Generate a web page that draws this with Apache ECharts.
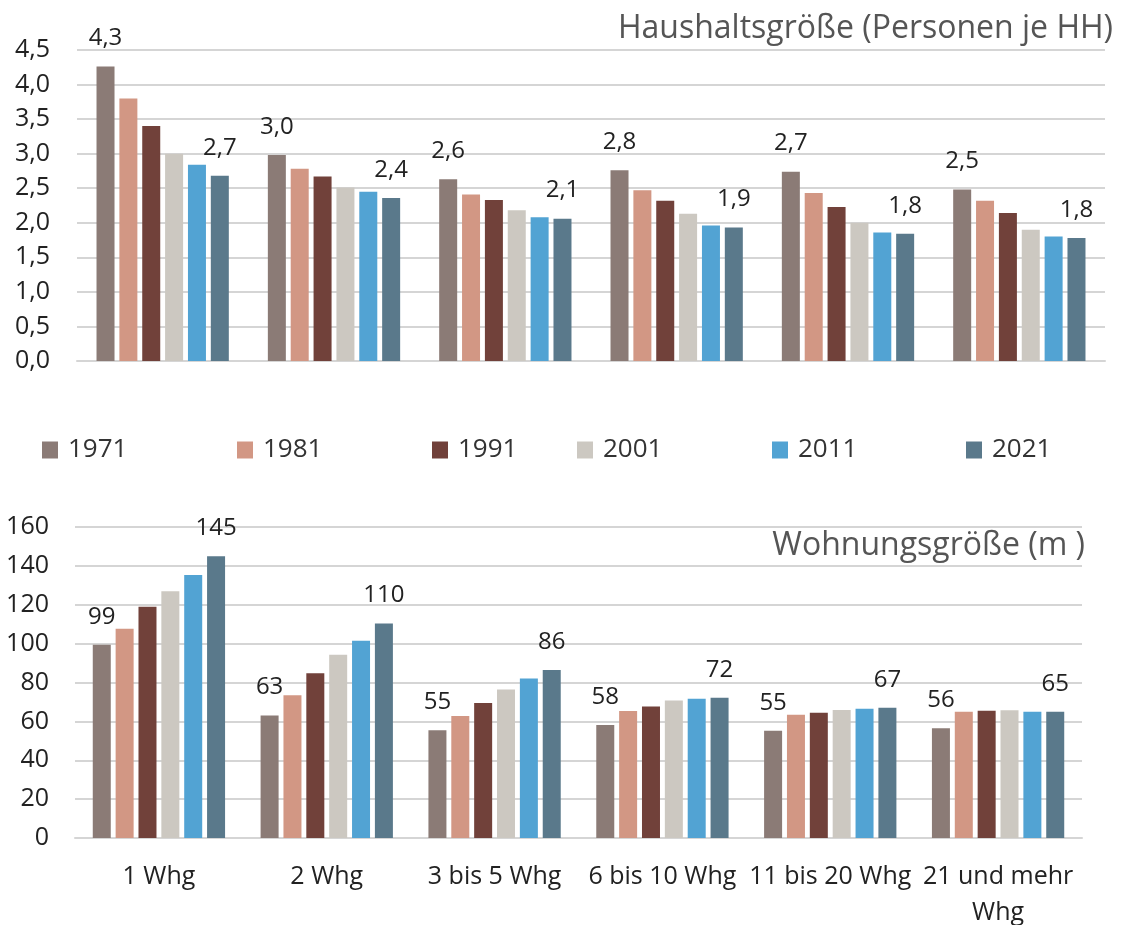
<!DOCTYPE html>
<html>
<head>
<meta charset="utf-8">
<script src="https://cdn.jsdelivr.net/npm/echarts@6/dist/echarts.min.js"></script>
<style>
html,body{margin:0;padding:0;background:#fff;}
#chart{width:1125px;height:925px;}
</style>
</head>
<body>
<div id="chart"></div>
<script>
// ---- data ----
const categories = ['1 Whg', '2 Whg', '3 bis 5 Whg', '6 bis 10 Whg', '11 bis 20 Whg', '21 und mehr Whg'];
const years = ['1971', '1981', '1991', '2001', '2011', '2021'];

// Haushaltsgröße (Personen je HH)
const hh1971 = [4.26, 2.98, 2.63, 2.76, 2.74, 2.48];
const hh1981 = [3.80, 2.78, 2.41, 2.47, 2.43, 2.32];
const hh1991 = [3.40, 2.67, 2.33, 2.32, 2.23, 2.14];
const hh2001 = [3.00, 2.51, 2.18, 2.13, 2.00, 1.90];
const hh2011 = [2.84, 2.45, 2.08, 1.96, 1.86, 1.80];
const hh2021 = [2.68, 2.36, 2.06, 1.93, 1.84, 1.78];

// Wohnungsgröße (m²)
const wg1971 = [99.4, 63.0, 55.4, 58.1, 55.2, 56.4];
const wg1981 = [107.7, 73.4, 62.8, 65.3, 63.4, 65.0];
const wg1991 = [119.0, 84.7, 69.4, 67.7, 64.5, 65.5];
const wg2001 = [126.9, 94.3, 76.4, 70.8, 65.8, 65.7];
const wg2011 = [135.3, 101.5, 82.1, 71.7, 66.5, 65.0];
const wg2021 = [145.0, 110.4, 86.4, 72.2, 67.0, 65.0];

const hhTicks = { min: 0, max: 4.5, interval: 0.5 };
const wgTicks = { min: 0, max: 160, interval: 20 };

const titleTop = 'Haushaltsgröße (Personen je HH)';
const titleBottom = 'Wohnungsgröße (m )';

// ---- styles ----
const colors = ['#8b7b76', '#d29784', '#71413a', '#ccc8c1', '#52a3d3', '#5a798b'];
const FONT = '"Open Sans", "Noto Sans", sans-serif';
const gridColor = '#d5d5d5';
const labelYears = ['1971', '2021'];

const hhData = [hh1971, hh1981, hh1991, hh2001, hh2011, hh2021];
const wgData = [wg1971, wg1981, wg1991, wg2001, wg2011, wg2021];

function mkSeries(name, data, idx, fmt, color) {
  const showLabel = labelYears.indexOf(name) >= 0;
  return {
    name: name,
    type: 'bar',
    xAxisIndex: idx,
    yAxisIndex: idx,
    data: data,
    barWidth: 18,
    barGap: '27%',
    itemStyle: { color: color },
    label: {
      show: showLabel,
      position: 'top',
      distance: 16,
      fontFamily: FONT,
      fontSize: 24,
      color: '#222',
      formatter: p => fmt(p.value)
    }
  };
}

const series = [];
years.forEach((y, i) => {
  series.push(mkSeries(y, hhData[i], 0, v => v.toFixed(1).replace('.', ','), colors[i]));
});
years.forEach((y, i) => {
  series.push(mkSeries(y, wgData[i], 1, v => String(Math.round(v)), colors[i]));
});

const legendLefts = [42, 237, 432, 577, 772, 966];
const legends = years.map((y, i) => ({
  data: [y],
  left: legendLefts[i],
  top: 437,
  padding: 0,
  icon: 'rect',
  itemWidth: 16,
  itemHeight: 17,
  selectedMode: false,
  textStyle: { fontFamily: FONT, fontSize: 26, color: '#333', padding: [0, 0, 0, 5] }
}));

const axisLineStyle = { show: true, lineStyle: { color: gridColor, width: 2 } };

const option = {
  animation: false,
  backgroundColor: '#fff',
  title: [
    { text: titleTop, right: 7, top: 8, textStyle: { fontFamily: FONT, fontSize: 32, fontWeight: 'normal', color: '#555' } },
    { text: titleBottom, right: 35, top: 525, textStyle: { fontFamily: FONT, fontSize: 32, fontWeight: 'normal', color: '#555' } }
  ],
  legend: legends,
  grid: [
    { left: 77, right: 20, top: 50, height: 311, outerBoundsMode: 'none', containLabel: false },
    { left: 75, right: 43, top: 527, height: 311, outerBoundsMode: 'none', containLabel: false }
  ],
  xAxis: [
    { type: 'category', gridIndex: 0, data: categories, axisTick: { show: false }, axisLabel: { show: false }, axisLine: axisLineStyle },
    { type: 'category', gridIndex: 1, data: categories, axisTick: { show: false }, axisLine: axisLineStyle,
      axisLabel: { interval: 0, fontFamily: FONT, fontSize: 25, color: '#222', margin: 21, lineHeight: 36,
        formatter: v => v.replace('mehr ', 'mehr\n') } }
  ],
  yAxis: [
    { type: 'value', gridIndex: 0, min: hhTicks.min, max: hhTicks.max, interval: hhTicks.interval,
      axisLabel: { fontFamily: FONT, fontSize: 25, color: '#222', margin: 27, formatter: v => v.toFixed(1).replace('.', ',') },
      splitLine: { lineStyle: { color: gridColor, width: 2 } }, axisLine: { show: false }, axisTick: { show: false } },
    { type: 'value', gridIndex: 1, min: wgTicks.min, max: wgTicks.max, interval: wgTicks.interval,
      axisLabel: { fontFamily: FONT, fontSize: 25, color: '#222', margin: 26 },
      splitLine: { lineStyle: { color: gridColor, width: 2 } }, axisLine: { show: false }, axisTick: { show: false } }
  ],
  series: series
};

const chart = echarts.init(document.getElementById('chart'), null, { renderer: 'canvas' });
chart.setOption(option);
</script>
</body>
</html>
